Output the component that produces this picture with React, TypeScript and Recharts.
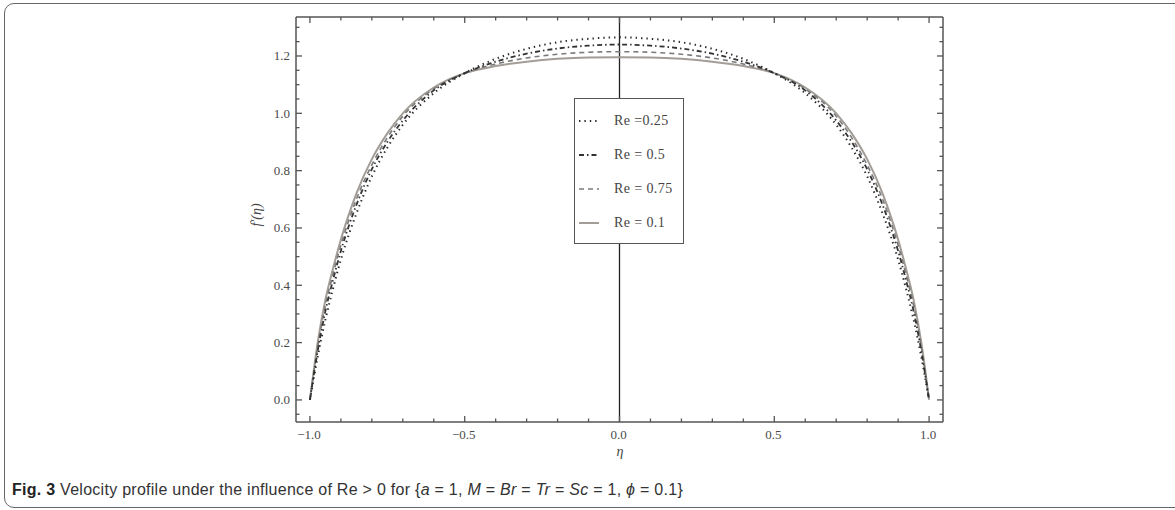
import React from "react";
import { LineChart, Line, XAxis, YAxis, ReferenceLine } from "recharts";

// η grid and velocity profiles f'(η) for each Reynolds number
const etaValues = [
  -1, -0.975, -0.95, -0.925, -0.9, -0.875, -0.85, -0.8, -0.75, -0.7, -0.6, -0.5, -0.4, -0.3, -0.2, -0.1, 0,
  0.1, 0.2, 0.3, 0.4, 0.5, 0.6, 0.7, 0.75, 0.8, 0.85, 0.875, 0.9, 0.925, 0.95, 0.975, 1,
];
const re025Values = [
  0, 0.15, 0.28, 0.39, 0.49, 0.575, 0.65, 0.78, 0.88, 0.96, 1.07, 1.14, 1.19, 1.225, 1.248, 1.26, 1.265,
  1.26, 1.248, 1.225, 1.19, 1.14, 1.07, 0.96, 0.88, 0.78, 0.65, 0.575, 0.49, 0.39, 0.28, 0.15, 0,
];
const re05Values = [
  0, 0.17, 0.31, 0.42, 0.52, 0.605, 0.68, 0.805, 0.9, 0.975, 1.08, 1.14, 1.18, 1.208, 1.226, 1.236, 1.24,
  1.236, 1.226, 1.208, 1.18, 1.14, 1.08, 0.975, 0.9, 0.805, 0.68, 0.605, 0.52, 0.42, 0.31, 0.17, 0,
];
const re075Values = [
  0, 0.185, 0.33, 0.44, 0.54, 0.625, 0.7, 0.82, 0.915, 0.99, 1.085, 1.14, 1.172, 1.193, 1.206, 1.213, 1.215,
  1.213, 1.206, 1.193, 1.172, 1.14, 1.085, 0.99, 0.915, 0.82, 0.7, 0.625, 0.54, 0.44, 0.33, 0.185, 0,
];
const re01Values = [
  0, 0.2, 0.35, 0.46, 0.56, 0.645, 0.72, 0.84, 0.93, 1.0, 1.09, 1.14, 1.165, 1.18, 1.19, 1.195, 1.196,
  1.195, 1.19, 1.18, 1.165, 1.14, 1.09, 1.0, 0.93, 0.84, 0.72, 0.645, 0.56, 0.46, 0.35, 0.2, 0,
];

// major + minor tick positions
const xTicks = [
  -1.0, -0.9, -0.8, -0.7, -0.6, -0.5, -0.4, -0.3, -0.2, -0.1, 0, 0.1, 0.2, 0.3, 0.4, 0.5, 0.6, 0.7, 0.8, 0.9, 1.0,
];
const yTicks = [
  -0.05, 0, 0.05, 0.1, 0.15, 0.2, 0.25, 0.3, 0.35, 0.4, 0.45, 0.5, 0.55, 0.6, 0.65, 0.7, 0.75, 0.8, 0.85, 0.9,
  0.95, 1.0, 1.05, 1.1, 1.15, 1.2, 1.25, 1.3,
];

const legendLabels = ["Re =0.25", "Re = 0.5", "Re = 0.75", "Re = 0.1"];
const seriesKeys = ["re025", "re05", "re075", "re01"];

const rows = etaValues.map((eta, i) => ({
  eta,
  re025: re025Values[i],
  re05: re05Values[i],
  re075: re075Values[i],
  re01: re01Values[i],
}));

const lineStyle: Record<string, { stroke: string; width: number; dash?: string }> = {
  re025: { stroke: "#2a2a2a", width: 2, dash: "1.4 4" },
  re05: { stroke: "#333", width: 1.8, dash: "5 3 1.5 3" },
  re075: { stroke: "#7a7a7a", width: 1.6, dash: "5 4" },
  re01: { stroke: "#a39d97", width: 2 },
};

const AXIS = "#555";
const TICK_FONT = "'Liberation Serif', 'DejaVu Serif', serif";
const isMajorX = (v: number) => Math.abs(v * 2 - Math.round(v * 2)) < 1e-6;
const isMajorY = (v: number) => Math.abs(v * 5 - Math.round(v * 5)) < 1e-6;
const fmt = (v: number) => v.toFixed(1).replace("-", "\u2212");

function BottomTick({ x, y, payload }: any) {
  const major = isMajorX(payload.value);
  return (
    <g>
      <path d={`M${x},${y}V${y - (major ? 6 : 3.5)}`} stroke={AXIS} strokeWidth={1.3} fill="none" />
      {major && (
        <text x={x - 1} y={y + 17} textAnchor="middle" fontFamily={TICK_FONT} fontSize={13} fill="#4a4a4a">
          {fmt(payload.value)}
        </text>
      )}
    </g>
  );
}

function TopTick({ x, y, payload }: any) {
  const major = isMajorX(payload.value);
  return <path d={`M${x},${y}V${y + (major ? 6 : 3.5)}`} stroke={AXIS} strokeWidth={1.3} fill="none" />;
}

function LeftTick({ x, y, payload }: any) {
  const major = isMajorY(payload.value);
  return (
    <g>
      <path d={`M${x},${y}H${x + (major ? 6 : 3.5)}`} stroke={AXIS} strokeWidth={1.3} fill="none" />
      {major && (
        <text x={x - 6} y={y + 4.5} textAnchor="end" fontFamily={TICK_FONT} fontSize={13} fill="#4a4a4a">
          {fmt(payload.value)}
        </text>
      )}
    </g>
  );
}

function RightTick({ x, y, payload }: any) {
  const major = isMajorY(payload.value);
  return <path d={`M${x},${y}H${x - (major ? 6 : 3.5)}`} stroke={AXIS} strokeWidth={1.3} fill="none" />;
}

function LegendBox() {
  return (
    <div
      style={{
        position: "absolute",
        left: 574,
        top: 98,
        width: 108,
        height: 144,
        border: "1.5px solid #555",
        background: "#fff",
      }}
    >
      {seriesKeys.map((key, i) => {
        const s = lineStyle[key];
        return (
          <div key={key} style={{ position: "absolute", left: 0, top: 13 + i * 34, height: 18, width: 108 }}>
            <svg width={24} height={18} style={{ position: "absolute", left: 3, top: 0 }}>
              <line x1={1} y1={9} x2={21} y2={9} stroke={s.stroke} strokeWidth={s.width} strokeDasharray={s.dash} />
            </svg>
            <span
              style={{
                position: "absolute",
                left: 39,
                top: 0,
                lineHeight: "18px",
                fontFamily: TICK_FONT,
                fontSize: 14,
                letterSpacing: 0.4,
                color: "#444",
                whiteSpace: "nowrap",
              }}
            >
              {legendLabels[i]}
            </span>
          </div>
        );
      })}
    </div>
  );
}

export default function App() {
  return (
    <div
      style={{
        position: "absolute",
        left: 0,
        top: 0,
        width: 1175,
        height: 510,
        background: "#fff",
        overflow: "hidden",
      }}
    >
      {/* figure frame */}
      <div
        style={{
          position: "absolute",
          left: 4,
          top: 3,
          width: 1190,
          height: 503,
          border: "1.5px solid #666",
          borderRadius: 10,
        }}
      />

      <div style={{ position: "absolute", left: 0, top: 0 }}>
        <LineChart width={1175} height={510} data={rows} margin={{ top: 16, right: 231, bottom: 58, left: 256 }}>
          <XAxis
            dataKey="eta"
            type="number"
            domain={[-1.045, 1.045]}
            allowDataOverflow
            ticks={xTicks}
            interval={0}
            tickLine={false}
            tickSize={0}
            tickMargin={0}
            height={30}
            axisLine={{ stroke: AXIS, strokeWidth: 1.5 }}
            tick={<BottomTick />}
          />
          <XAxis
            xAxisId="top"
            orientation="top"
            dataKey="eta"
            type="number"
            domain={[-1.045, 1.045]}
            allowDataOverflow
            ticks={xTicks}
            interval={0}
            tickLine={false}
            tickSize={0}
            tickMargin={0}
            height={1}
            axisLine={{ stroke: AXIS, strokeWidth: 1.5 }}
            tick={<TopTick />}
          />
          <YAxis
            type="number"
            domain={[-0.077, 1.336]}
            allowDataOverflow
            ticks={yTicks}
            interval={0}
            tickLine={false}
            tickSize={0}
            tickMargin={0}
            width={40}
            axisLine={{ stroke: AXIS, strokeWidth: 1.5 }}
            tick={<LeftTick />}
          />
          <YAxis
            yAxisId="right"
            orientation="right"
            type="number"
            domain={[-0.077, 1.336]}
            allowDataOverflow
            ticks={yTicks}
            interval={0}
            tickLine={false}
            tickSize={0}
            tickMargin={0}
            width={1}
            axisLine={{ stroke: AXIS, strokeWidth: 1.5 }}
            tick={<RightTick />}
          />
          <ReferenceLine x={0} stroke="#222" strokeWidth={1.3} />
          {["re01", "re075", "re05", "re025"].map((key) => (
            <Line
              key={key}
              type="monotone"
              dataKey={key}
              stroke={lineStyle[key].stroke}
              strokeWidth={lineStyle[key].width}
              strokeDasharray={lineStyle[key].dash}
              dot={false}
              activeDot={false}
              isAnimationActive={false}
            />
          ))}
        </LineChart>
      </div>

      {/* axis titles */}
      <div
        style={{
          position: "absolute",
          left: 257,
          top: 215,
          transform: "translate(-50%, -50%) rotate(-90deg)",
          fontFamily: TICK_FONT,
          fontStyle: "italic",
          fontSize: 14,
          color: "#444",
          whiteSpace: "nowrap",
        }}
      >
        f′(η)
      </div>
      <div
        style={{
          position: "absolute",
          left: 620,
          top: 452,
          transform: "translate(-50%, -50%)",
          fontFamily: TICK_FONT,
          fontStyle: "italic",
          fontSize: 14,
          color: "#444",
        }}
      >
        η
      </div>

      <LegendBox />

      {/* caption */}
      <div
        style={{
          position: "absolute",
          left: 12,
          top: 481,
          fontFamily: "'Liberation Sans', Arial, sans-serif",
          fontSize: 16,
          letterSpacing: 0.27,
          color: "#333",
          whiteSpace: "nowrap",
        }}
      >
        <b style={{ color: "#222" }}>Fig. 3</b> Velocity profile under the influence of Re &gt; 0 for {"{"}
        <i>a</i> = 1, <i>M</i> = <i>Br</i> = <i>Tr</i> = <i>Sc</i> = 1, <i>ϕ</i> = 0.1{"}"}
      </div>
    </div>
  );
}
